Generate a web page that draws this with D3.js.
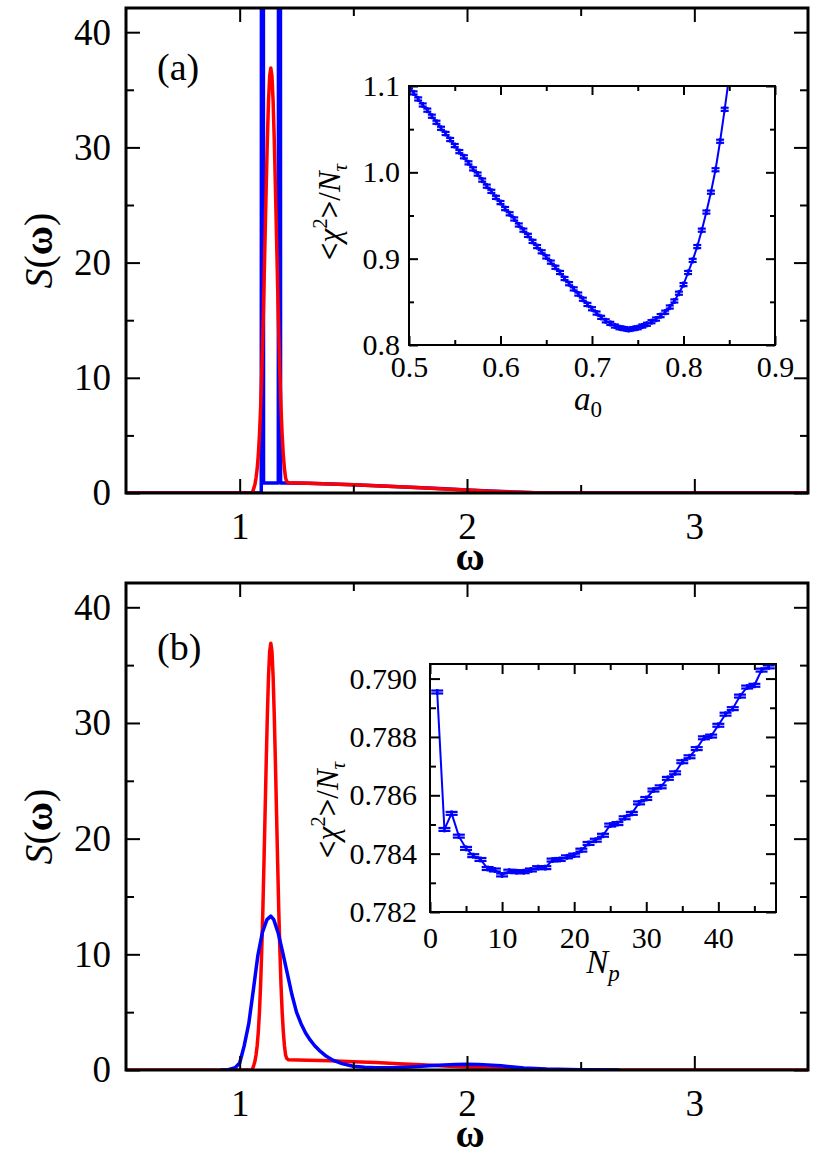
<!DOCTYPE html>
<html>
<head>
<meta charset="UTF-8">
<title>S(omega)</title>
<script src="https://d3js.org/d3.v7.min.js"></script>
<style>
  body { margin: 0; background: #fff; }
  svg, svg text { font-family: "Liberation Serif", "DejaVu Serif", "Times New Roman", serif; }
</style>
</head>
<body>
<svg id="fig" width="817" height="1161"></svg>
<script>
// ---- main panels: [omega, S(omega)] ----
const redSpec = [[0.5,0],[1.0,0],[1.055,0],[1.062,0.4],[1.067,0.73],[1.072,1.3],[1.077,2.1],[1.082,3.3],
  [1.087,5.0],[1.092,7.3],[1.097,10.3],[1.102,13.8],[1.107,18.0],[1.112,22.4],[1.117,26.8],[1.122,30.8],
  [1.127,34.1],[1.132,36.2],[1.137,36.9],[1.142,36.2],[1.147,34.1],[1.152,30.8],[1.157,26.8],[1.162,22.4],
  [1.167,18.0],[1.172,13.8],[1.177,10.3],[1.182,7.3],[1.187,5.0],[1.192,3.3],[1.197,2.1],[1.202,1.3],
  [1.207,1.0],[1.215,0.88],[1.3,0.85],[1.4,0.79],[1.5,0.72],[1.6,0.64],[1.7,0.55],[1.8,0.45],[1.9,0.35],
  [2.0,0.25],[2.1,0.16],[2.2,0.08],[2.3,0.03],[2.4,0],[3.5,0]];
const blueSpecA = [[0.5,0],[1.095,0],[1.098,200],[1.102,200],[1.105,0.87],[1.170,0.87],[1.173,200],
  [1.177,200],[1.180,0.87],[1.2,0.87],[1.3,0.84],[1.4,0.79],[1.5,0.72],[1.6,0.64],[1.7,0.55],[1.8,0.46],
  [1.9,0.36],[2.0,0.26],[2.1,0.17],[2.2,0.09],[2.3,0.03],[2.4,0],[3.5,0]];
const blueSpecB = [[0.916,0],[0.95,0.03],[0.98,0.2],[1.0,0.6],[1.02,2.1],[1.04,4.0],[1.06,6.9],[1.07,8.4],
  [1.08,9.9],[1.10,11.9],[1.12,13.0],[1.137,13.3],[1.15,13.0],[1.17,11.8],[1.19,10.1],[1.21,8.3],[1.23,6.5],
  [1.25,5.0],[1.27,4.0],[1.29,3.2],[1.31,2.6],[1.33,2.1],[1.35,1.7],[1.38,1.2],[1.41,0.85],[1.45,0.55],
  [1.5,0.33],[1.55,0.24],[1.6,0.2],[1.67,0.19],[1.75,0.25],[1.85,0.38],[1.95,0.48],[2.0,0.5],[2.05,0.48],
  [2.15,0.36],[2.25,0.18],[2.35,0.08],[2.5,0.02],[2.67,0]];
const mainXTicks = [1, 2, 3], mainXMinor = [1.5, 2.5];
const mainYTicks = [0, 10, 20, 30, 40], mainYMinor = [5, 15, 25, 35];

// ---- inset (a): chi^2/N_tau vs a0 ----
const a0Vals = [0.500,0.505,0.510,0.515,0.520,0.525,0.530,0.535,0.540,0.545,0.550,0.555,0.560,0.565,0.570,
  0.575,0.580,0.585,0.590,0.595,0.600,0.605,0.610,0.615,0.620,0.625,0.630,0.635,0.640,0.645,0.650,0.655,
  0.660,0.665,0.670,0.675,0.680,0.685,0.690,0.695,0.700,0.705,0.710,0.715,0.720,0.725,0.730,0.735,0.740,
  0.745,0.750,0.755,0.760,0.765,0.770,0.775,0.780,0.785,0.790,0.795,0.800,0.805,0.810,0.815,0.820,0.825,
  0.830,0.835,0.840,0.845,0.850];
const chiA = [1.099,1.092,1.085,1.078,1.072,1.065,1.058,1.051,1.045,1.038,1.031,1.024,1.018,1.011,1.004,
  0.998,0.991,0.984,0.978,0.971,0.965,0.958,0.952,0.946,0.939,0.933,0.927,0.920,0.914,0.908,0.902,0.896,
  0.890,0.884,0.877,0.871,0.865,0.859,0.853,0.847,0.842,0.837,0.832,0.828,0.825,0.822,0.820,0.819,0.818,
  0.819,0.820,0.822,0.824,0.827,0.830,0.834,0.838,0.844,0.851,0.860,0.870,0.884,0.898,0.914,0.933,0.954,
  0.977,1.003,1.036,1.073,1.112];
const errA = 0.0018;
const insetAXTicks = [0.5, 0.6, 0.7, 0.8, 0.9], insetAXMinor = [0.55, 0.65, 0.75, 0.85];
const insetAYTicks = [0.8, 0.9, 1.0, 1.1], insetAYMinor = [0.85, 0.95, 1.05];

// ---- inset (b): chi^2/N_tau vs N_p ----
const npVals = d3.range(1, 48);
const chiB = [0.78954,0.78483,0.78538,0.78460,0.78418,0.78393,0.78380,0.78349,0.78344,0.78327,0.78340,
  0.78338,0.78338,0.78344,0.78352,0.78352,0.78378,0.78380,0.78389,0.78395,0.78412,0.78435,0.78446,0.78463,
  0.78498,0.78503,0.78523,0.78538,0.78574,0.78589,0.78618,0.78629,0.78658,0.78677,0.78715,0.78732,0.78760,
  0.78797,0.78803,0.78840,0.78878,0.78897,0.78940,0.78971,0.78977,0.79029,0.79040];
const errB = 0.00005;
const insetBXTicks = [0, 10, 20, 30, 40], insetBXMinor = [5, 15, 25, 35, 45];
const insetBYTicks = [0.782, 0.784, 0.786, 0.788, 0.790], insetBYMinor = [0.783, 0.785, 0.787, 0.789];

const FONT = "Liberation Serif, DejaVu Serif, serif";
const svg = d3.select("#fig").attr("font-family", FONT);
svg.append("rect").attr("width", 817).attr("height", 1161).attr("fill", "#fff");

// frame with inward ticks on all four sides
function box(g, x, y, o) {
  const [x0, x1] = x.range(), [y0, y1] = y.range();
  const add = (axis, tr) => g.append("g").attr("transform", tr).call(axis)
    .attr("font-family", FONT).attr("font-size", o.fs);
  add(d3.axisBottom(x).tickValues(o.xt).tickSize(-o.maj).tickPadding(o.xpad).tickFormat(o.xfmt), `translate(0,${y0})`);
  add(d3.axisBottom(x).tickValues(o.xm).tickSize(-o.min).tickFormat(""), `translate(0,${y0})`);
  add(d3.axisTop(x).tickValues(o.xt).tickSize(-o.maj).tickFormat(""), `translate(0,${y1})`);
  add(d3.axisTop(x).tickValues(o.xm).tickSize(-o.min).tickFormat(""), `translate(0,${y1})`);
  add(d3.axisLeft(y).tickValues(o.yt).tickSize(-o.maj).tickPadding(o.ypad).tickFormat(o.yfmt), `translate(${x0},0)`);
  add(d3.axisLeft(y).tickValues(o.ym).tickSize(-o.min).tickFormat(""), `translate(${x0},0)`);
  add(d3.axisRight(y).tickValues(o.yt).tickSize(-o.maj).tickFormat(""), `translate(${x1},0)`);
  add(d3.axisRight(y).tickValues(o.ym).tickSize(-o.min).tickFormat(""), `translate(${x1},0)`);
  g.selectAll(".domain").remove();
  g.selectAll(".tick line").attr("stroke", "#000").attr("stroke-width", o.sw);
  g.selectAll(".tick text").attr("fill", "#000");
  g.append("rect").attr("x", x0).attr("y", y1).attr("width", x1 - x0).attr("height", y0 - y1)
    .attr("fill", "none").attr("stroke", "#000").attr("stroke-width", o.sw);
}

function chiLabel(g, cx, cy) {
  const t = g.append("text").attr("transform", `translate(${cx},${cy}) rotate(-90)`)
    .attr("text-anchor", "middle").attr("font-size", 31);
  t.append("tspan").attr("font-weight", "bold").text("<");
  t.append("tspan").attr("font-style", "italic").text("χ");
  t.append("tspan").attr("dy", -13).attr("font-size", 21).text("2");
  t.append("tspan").attr("dy", 13).attr("font-weight", "bold").text(">");
  t.append("tspan").text("/");
  t.append("tspan").attr("font-style", "italic").text("N");
  t.append("tspan").attr("dy", 7).attr("font-size", 21).attr("font-style", "italic").text("τ");
}

function mainPanel(top, bottom, blue, tag, tagY, blueOnTop, id) {
  const x = d3.scaleLinear().domain([0.5, 3.5]).range([126, 808]);
  const y = d3.scaleLinear().domain([0, 42.1]).range([bottom, top]);
  const g = svg.append("g");
  g.append("clipPath").attr("id", id).append("rect")
    .attr("x", 126).attr("y", top).attr("width", 682).attr("height", bottom - top);
  const line = d3.line().x(d => x(d[0])).y(d => y(d[1]));
  const curves = g.append("g").attr("clip-path", `url(#${id})`).attr("fill", "none")
    .attr("stroke-width", 3.5).attr("stroke-linejoin", "round");
  const series = blueOnTop ? [[redSpec, "#ff0000"], [blue, "#0000ff"]] : [[blue, "#0000ff"], [redSpec, "#ff0000"]];
  series.forEach(([d, c]) => curves.append("path").attr("d", line(d)).attr("stroke", c));
  box(g, x, y, { xt: mainXTicks, xm: mainXMinor, yt: mainYTicks, ym: mainYMinor, maj: 14, min: 8,
    fs: 37, xpad: 20, ypad: 15, sw: 3, xfmt: d3.format("d"), yfmt: d3.format("d") });
  g.append("text").attr("x", 157).attr("y", tagY).attr("font-size", 38).text(tag);
  const sl = g.append("text").attr("transform", `translate(52,${(top + bottom) / 2}) rotate(-90)`)
    .attr("text-anchor", "middle").attr("font-size", 40);
  sl.append("tspan").attr("font-style", "italic").text("S");
  sl.append("tspan").text("(");
  sl.append("tspan").attr("font-weight", "bold").text("ω");
  sl.append("tspan").text(")");
  g.append("text").attr("x", 470).attr("y", bottom + 77).attr("text-anchor", "middle")
    .attr("font-size", 40).attr("font-weight", "bold").text("ω");
  return g;
}

function inset(g, xs, ys, xv, yv, err, cap, o, id) {
  const [x0, x1] = xs.range(), [y0, y1] = ys.range();
  g.append("rect").attr("x", x0).attr("y", y1).attr("width", x1 - x0).attr("height", y0 - y1).attr("fill", "#fff");
  g.append("clipPath").attr("id", id).append("rect")
    .attr("x", x0).attr("y", y1).attr("width", x1 - x0).attr("height", y0 - y1);
  const pts = xv.map((v, i) => [v, yv[i]]);
  const d = g.append("g").attr("clip-path", `url(#${id})`).attr("stroke", "#0000ff");
  d.append("path").attr("d", d3.line().x(p => xs(p[0])).y(p => ys(p[1]))(pts))
    .attr("fill", "none").attr("stroke-width", 2);
  pts.forEach(p => {
    const cx = xs(p[0]), ya = ys(p[1] + err), yb = ys(p[1] - err);
    d.append("line").attr("x1", cx).attr("x2", cx).attr("y1", ya - 1.5).attr("y2", yb + 1.5).attr("stroke-width", 2.5);
    [ya, yb].forEach(yy => d.append("line").attr("x1", cx - cap).attr("x2", cx + cap)
      .attr("y1", yy).attr("y2", yy).attr("stroke-width", 2.2));
  });
  box(g, xs, ys, o);
}

// panel (a)
const gA = mainPanel(8, 493, blueSpecA, "(a)", 80, false, "clipA");
const xa = d3.scaleLinear().domain([0.5, 0.9]).range([409, 775]);
const ya = d3.scaleLinear().domain([0.8, 1.1]).range([345, 86]);
inset(gA, xa, ya, a0Vals, chiA, errA, 4,
  { xt: insetAXTicks, xm: insetAXMinor, yt: insetAYTicks, ym: insetAYMinor, maj: 9, min: 5,
    fs: 30, xpad: 11, ypad: 9, sw: 2, xfmt: d3.format(".1f"), yfmt: d3.format(".1f") }, "clipIA");
chiLabel(gA, 340, 212);
const la = gA.append("text").attr("x", 588).attr("y", 410).attr("text-anchor", "middle").attr("font-size", 33);
la.append("tspan").attr("font-style", "italic").text("a");
la.append("tspan").attr("dy", 7).attr("font-size", 23).text("0");

// panel (b)
const gB = mainPanel(583, 1070, blueSpecB, "(b)", 660, true, "clipB");
const xb = d3.scaleLinear().domain([0, 48]).range([430, 776]);
const yb = d3.scaleLinear().domain([0.782, 0.7905]).range([912, 664]);
inset(gB, xb, yb, npVals, chiB, errB, 6,
  { xt: insetBXTicks, xm: insetBXMinor, yt: insetBYTicks, ym: insetBYMinor, maj: 10, min: 6,
    fs: 30, xpad: 15, ypad: 13, sw: 2, xfmt: d3.format("d"), yfmt: d3.format(".3f") }, "clipIB");
chiLabel(gB, 338, 810);
const lb = gB.append("text").attr("x", 603).attr("y", 973).attr("text-anchor", "middle").attr("font-size", 33);
lb.append("tspan").attr("font-style", "italic").text("N");
lb.append("tspan").attr("dy", 8).attr("font-size", 23).attr("font-style", "italic").text("p");
</script>
</body>
</html>
